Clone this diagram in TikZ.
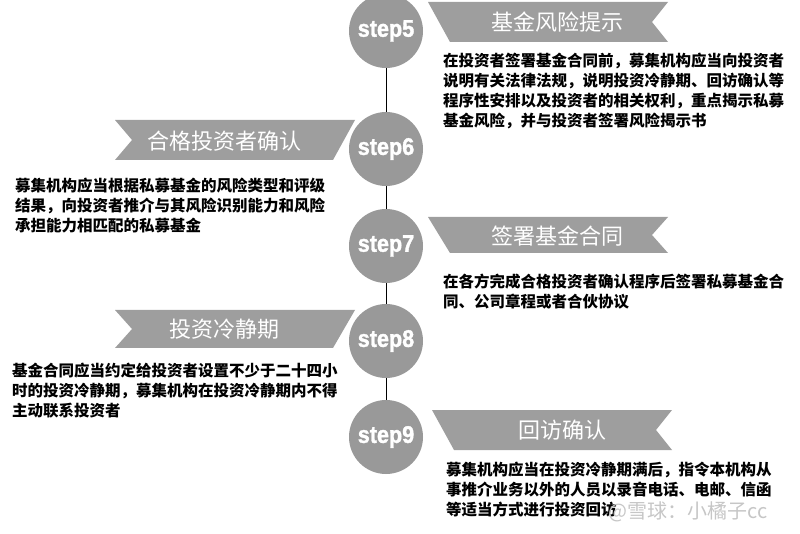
\documentclass[tikz,border=0pt]{standalone}
\usepackage{fontspec}
\setmainfont{Liberation Sans}
\newfontfamily\cjkfont{Noto Sans CJK SC}
\newfontfamily\stepfont[FakeStretch=0.9,FakeBold=1.5]{Liberation Sans}
\definecolor{stepgray}{RGB}{153,153,153}
\definecolor{ribbongray}{RGB}{158,158,158}

\begin{document}
\begin{tikzpicture}[x=1pt,y=-1pt,
  stepdot/.style={circle,fill=stepgray,minimum size=74pt,inner sep=0pt,
    text=white,font=\stepfont\bfseries\fontsize{24}{24}\selectfont},
  ribbontitle/.style={text=white,inner sep=0pt,
    font=\cjkfont\fontsize{22}{22}\selectfont},
  bodytext/.style={anchor=north west,align=left,inner sep=0pt,
    font=\cjkfont\bfseries\fontsize{15.5}{20}\selectfont}]
\useasboundingbox (0,0) rectangle (800,534);

% Ribbons on the right
\foreach \x/\yt/\h in {428/2/40,428/217/36,432/410/40} {
    \fill[ribbongray] (\x,\yt) -- ++(240,0) -- ++(-16,\h/2) -- ++(16,\h/2)
        -- ++(-218,0) -- cycle;
}
% Ribbons on the left
\foreach \yt/\h in {120/40,310/38} {
    \fill[ribbongray] (115,\yt) -- (355,\yt) -- (333,\yt+\h) -- (115,\yt+\h)
        -- (132,\yt+\h/2) -- cycle;
}

% Steps
\node[stepdot] (s5) at (386,31) {step5};
\node[stepdot] (s6) at (386,149) {step6};
\node[stepdot] (s7) at (386,246) {step7};
\node[stepdot] (s8) at (386,341) {step8};
\node[stepdot] (s9) at (386,437) {step9};
\draw (s5) -- (s6);
\draw (s6) -- (s7);
\draw (s7) -- (s8);
\draw (s8) -- (s9);

% Titles
\node[ribbontitle] (t5) at (557,22) {基金风险提示};
\node[ribbontitle] (t6) at (224,141) {合格投资者确认};
\node[ribbontitle] (t7) at (557,236) {签署基金合同};
\node[ribbontitle] (t8) at (224,329) {投资冷静期};
\node[ribbontitle] (t9) at (562,430) {回访确认};

% Texts
\node[bodytext] (b5) at (443,53) {在投资者签署基金合同前，募集机构应当向投资者\\说明有关法律法规，说明投资冷静期、回访确认等\\程序性安排以及投资者的相关权利，重点揭示私募\\基金风险，并与投资者签署风险揭示书};
\node[bodytext] (b6) at (15,178) {募集机构应当根据私募基金的风险类型和评级\\结果，向投资者推介与其风险识别能力和风险\\承担能力相匹配的私募基金};
\node[bodytext] (b7) at (443,274) {在各方完成合格投资者确认程序后签署私募基金合\\同、公司章程或者合伙协议};
\node[bodytext] (b8) at (12,363) {基金合同应当约定给投资者设置不少于二十四小\\时的投资冷静期，募集机构在投资冷静期内不得\\主动联系投资者};
\node[bodytext] (b9) at (446,462) {募集机构应当在投资冷静期满后，指令本机构从\\事推介业务以外的人员以录音电话、电邮、信函\\等适当方式进行投资回访};

% Watermark
\node[text=gray!45,font=\cjkfont\fontsize{20}{20}\selectfont] (wm) at (688,512) {@雪球：小橘子cc};
\end{tikzpicture}
\end{document}
